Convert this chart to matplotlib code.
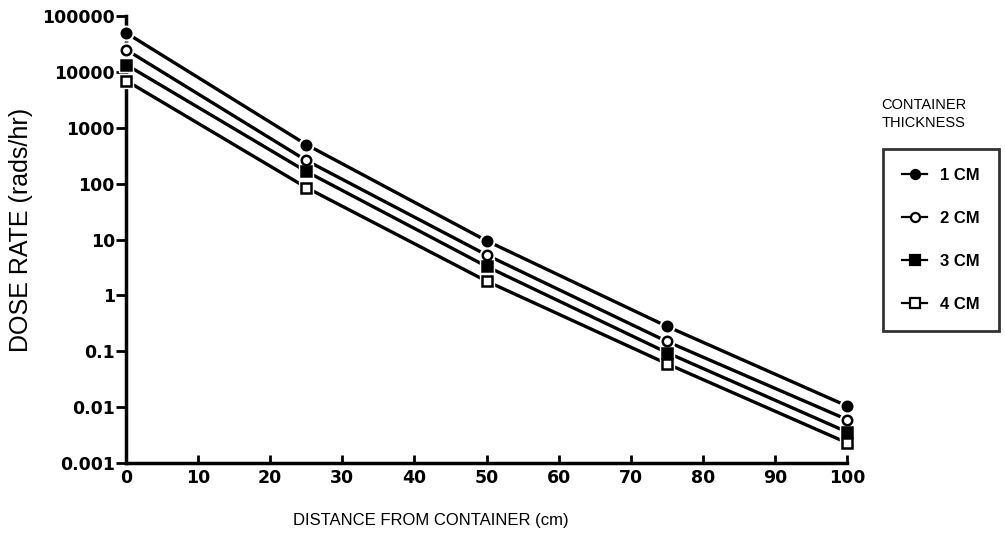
import numpy as np
import matplotlib
matplotlib.use("Agg")
import matplotlib.pyplot as plt
from matplotlib.lines import Line2D

# distance from container (cm)
distance = [0, 25, 50, 75, 100]

# dose rate (rads/hr) for each container thickness
dose_1cm = [50000, 500, 9.5, 0.28, 0.0105]
dose_2cm = [25000, 260, 5.3, 0.15, 0.006]
dose_3cm = [13500, 165, 3.3, 0.095, 0.0036]
dose_4cm = [7000, 85, 1.8, 0.06, 0.0023]

labels = ['1 CM', '2 CM', '3 CM', '4 CM']
y_ticks = [0.001, 0.01, 0.1, 1, 10, 100, 1000, 10000, 100000]
y_tick_labels = ['0.001', '0.01', '0.1', '1', '10', '100', '1000', '10000', '100000']
x_ticks = [0, 10, 20, 30, 40, 50, 60, 70, 80, 90, 100]

plt.rcParams['font.family'] = ['DejaVu Sans']

fig = plt.figure(figsize=(10.05, 5.33), dpi=100)
ax = fig.add_axes([0.1254, 0.1313, 0.7174, 0.8387])

series = [dose_1cm, dose_2cm, dose_3cm, dose_4cm]
styles = [('o', 'black'), ('o', 'white'), ('s', 'black'), ('s', 'white')]

handles = []
for vals, (m, fc), lab in zip(series, styles, labels):
    ax.plot(distance, vals, color='black', linewidth=2.4, zorder=2, clip_on=False)
    # white halo so the line breaks around the marker, like the original
    ax.plot(distance, vals, linestyle='none', marker=m, markersize=10.5,
            markerfacecolor='white', markeredgecolor='white', zorder=3, clip_on=False)
    ax.plot(distance, vals, linestyle='none', marker=m, markersize=6.8,
            markerfacecolor=fc, markeredgecolor='black', markeredgewidth=1.8,
            zorder=4, clip_on=False)
    handles.append(Line2D([0], [0], color='black', linewidth=1.6, marker=m,
                          markersize=6.5, markerfacecolor=fc,
                          markeredgecolor='black', markeredgewidth=1.6))

ax.set_yscale('log')
ax.set_ylim(0.001, 100000)
ax.set_xlim(0, 100)
ax.set_yticks(y_ticks)
ax.set_yticklabels(y_tick_labels, fontweight='bold')
ax.yaxis.set_minor_locator(matplotlib.ticker.NullLocator())
ax.set_xticks(x_ticks)
ax.set_xticklabels([str(t) for t in x_ticks], fontweight='bold')

for s in ['top', 'right']:
    ax.spines[s].set_visible(False)
for s in ['left', 'bottom']:
    ax.spines[s].set_linewidth(2.5)

ax.tick_params(axis='y', direction='out', length=7, width=2, labelsize=12.5, pad=1)
ax.tick_params(axis='x', direction='in', length=6, width=2, labelsize=12.5, pad=4)

ax.set_ylabel('DOSE RATE (rads/hr)', fontsize=18, family='Liberation Sans')
ax.yaxis.set_label_coords(-0.146, 0.521)
ax.set_xlabel('DISTANCE FROM CONTAINER (cm)', fontsize=12, family='Liberation Sans')
ax.xaxis.set_label_coords(0.423, -0.128)
ax.xaxis.label.set_va('center')
ax.yaxis.label.set_va('center')

fig.text(0.877, 0.757, 'CONTAINER\nTHICKNESS', fontsize=10.5, family='Liberation Sans',
         ha='left', va='bottom', linespacing=1.35)

leg = fig.legend(handles, labels, loc='upper left', bbox_to_anchor=(0.8786, 0.7205),
                 frameon=True, fancybox=False, edgecolor='black',
                 handlelength=1.5, labelspacing=1.68, borderpad=1.15,
                 handletextpad=0.8, borderaxespad=0,
                 prop={'family': 'Liberation Sans', 'size': 12, 'weight': 'bold'})
leg.get_frame().set_linewidth(2.0)

fig.savefig('out.png', dpi=100)
